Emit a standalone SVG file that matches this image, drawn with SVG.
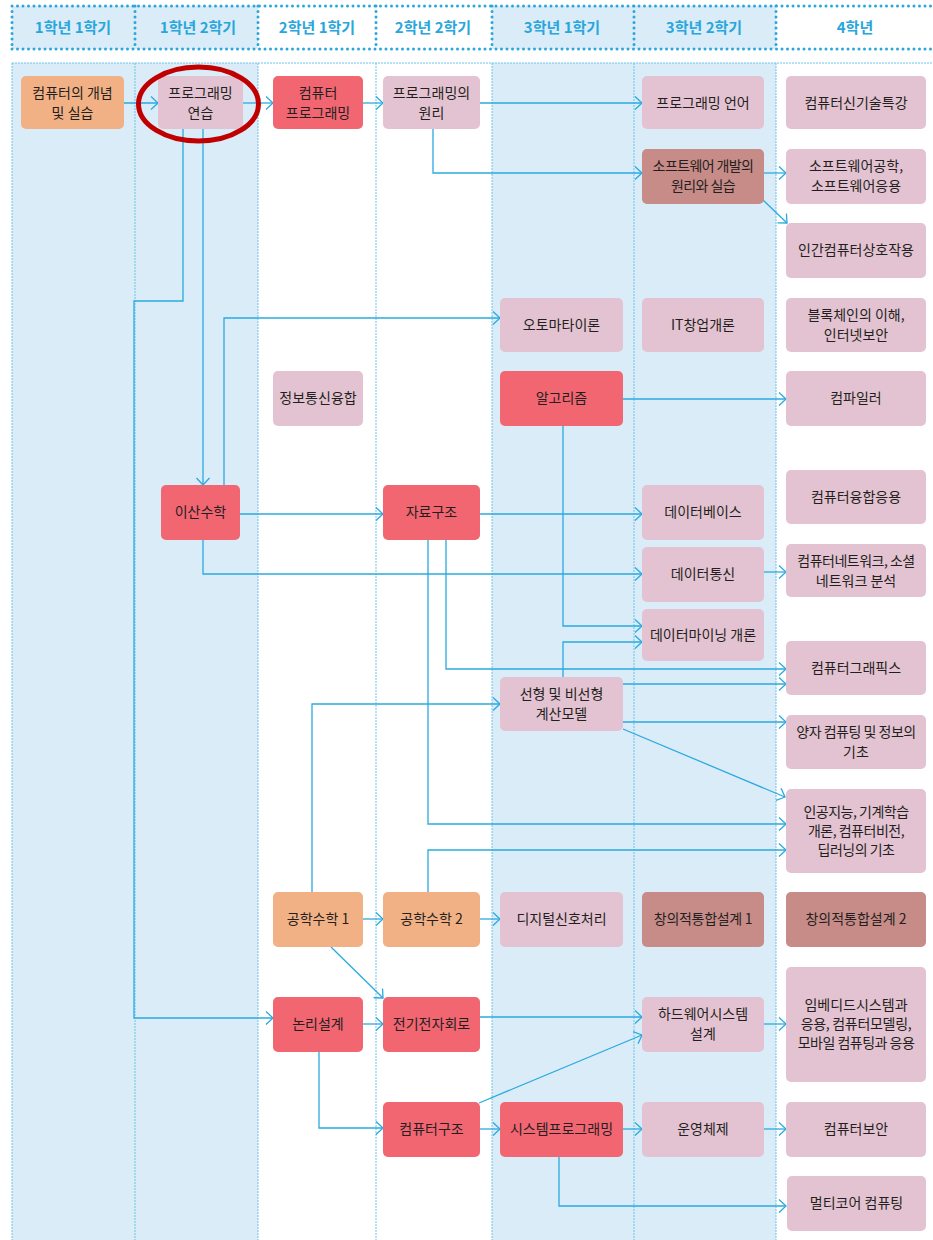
<svg xmlns="http://www.w3.org/2000/svg" width="933" height="1240" viewBox="0 0 933 1240">
<defs>
<style>
.hd{font-family:"Noto Sans CJK KR","Noto Sans",sans-serif;font-size:15px;font-weight:bold;fill:#29a6dc;text-anchor:middle}
.t{font-family:"Noto Sans CJK KR","Noto Sans",sans-serif;font-size:14px;fill:#231f20;text-anchor:middle}
.o{fill:#f2b185}
.p{fill:#e3c3d1}
.r{fill:#f26672}
.d{fill:#c78b88}
.bg{fill:#daecf8}
.hdot{stroke:#29a6dc;stroke-width:3;stroke-linecap:round;stroke-dasharray:0 5.5;fill:none}
.bdot{stroke:#6cc3ea;stroke-width:1;stroke-dasharray:2 1;fill:none}
.c{fill:none;stroke:#2aaae0;stroke-width:1.3;marker-end:url(#a)}
.c2{fill:none;stroke:#2aaae0;stroke-width:1.3}
</style>
<marker id="a" markerUnits="userSpaceOnUse" markerWidth="10" markerHeight="14" refX="8" refY="7" orient="auto">
<path d="M1,0.5 L8,7 L1,13.5" fill="none" stroke="#2aaae0" stroke-width="1.3"/>
</marker>
</defs>
<rect width="933" height="1240" fill="#ffffff"/>
<g id="header">
<rect class="bg" x="12" y="6" width="246" height="43"/>
<rect class="bg" x="492" y="6" width="284" height="43"/>
<path class="hdot" d="M12,6 H933 M12,49 H933 M12,6 V49 M135,6 V49 M258,6 V49 M376,6 V49 M492,6 V49 M634,6 V49 M776,6 V49"/>
<text class="hd" x="73" y="33">1학년 1학기</text>
<text class="hd" x="198" y="33">1학년 2학기</text>
<text class="hd" x="317" y="33">2학년 1학기</text>
<text class="hd" x="433" y="33">2학년 2학기</text>
<text class="hd" x="562" y="33">3학년 1학기</text>
<text class="hd" x="704" y="33">3학년 2학기</text>
<text class="hd" x="855" y="33">4학년</text>
</g>
<g id="body">
<rect class="bg" x="12" y="63" width="246" height="1177"/>
<rect class="bg" x="492" y="63" width="284" height="1177"/>
<path class="bdot" d="M12,63 H933 M12,63 V1240 M135,63 V1240 M258,63 V1240 M376,63 V1240 M492,63 V1240 M634,63 V1240 M776,63 V1240"/>
</g>
<g id="connectors">
<path class="c" d="M124,103 H158"/>
<path class="c" d="M243,103 H273"/>
<path class="c" d="M363,103 H383"/>
<path class="c" d="M480,103 H642"/>
<path class="c" d="M433,129 V173 H642"/>
<path class="c" d="M764,173 H786"/>
<path class="c" d="M763,200 L787,223"/>
<path class="c" d="M183,129 V301 H134 V1018 H273"/>
<path class="c" d="M203,129 V485"/>
<path class="c" d="M224,485 V318 H500"/>
<path class="c" d="M240,514 H383"/>
<path class="c" d="M203,540 V574 H642"/>
<path class="c" d="M480,514 H642"/>
<path class="c" d="M428,540 V824 H786"/>
<path class="c" d="M446,540 V669 H786"/>
<path class="c" d="M563,426 V626 H642"/>
<path class="c" d="M623,399 H786"/>
<path class="c" d="M563,677 V642 H642"/>
<path class="c" d="M623,684 H786"/>
<path class="c" d="M623,722 H786"/>
<path class="c" d="M623,729 L785,797"/>
<path class="c" d="M312,892 V704 H500"/>
<path class="c" d="M428,892 V850 H786"/>
<path class="c" d="M363,919 H383"/>
<path class="c" d="M480,919 H500"/>
<path class="c" d="M331,947 L383,998"/>
<path class="c" d="M363,1024 H383"/>
<path class="c" d="M319,1052 V1128 H383"/>
<path class="c" d="M480,1017 H642"/>
<path class="c" d="M479,1103 L642,1035"/>
<path class="c" d="M764,1024 H786"/>
<path class="c" d="M480,1129 H500"/>
<path class="c" d="M623,1129 H642"/>
<path class="c" d="M764,1129 H786"/>
<path class="c" d="M559,1157 V1206 H786"/>
<path class="c" d="M764,572 H786"/>
</g>
<g id="n1"><rect class="o" x="21" y="76" width="103" height="53" rx="5"/><text class="t" x="72.5" y="98">컴퓨터의 개념</text><text class="t" x="72.5" y="118">및 실습</text></g>
<g id="n2"><rect class="p" x="158" y="76" width="85" height="53" rx="5"/><text class="t" x="200.5" y="98">프로그래밍</text><text class="t" x="200.5" y="118">연습</text></g>
<g id="n3"><rect class="r" x="273" y="76" width="90" height="53" rx="5"/><text class="t" x="318" y="98">컴퓨터</text><text class="t" x="318" y="118">프로그래밍</text></g>
<g id="n4"><rect class="p" x="383" y="76" width="97" height="53" rx="5"/><text class="t" x="431.5" y="98">프로그래밍의</text><text class="t" x="431.5" y="118">원리</text></g>
<g id="n5"><rect class="p" x="642" y="76" width="122" height="53" rx="5"/><text class="t" x="703" y="108">프로그래밍 언어</text></g>
<g id="n6"><rect class="p" x="786" y="76" width="140" height="53" rx="5"/><text class="t" x="856" y="108">컴퓨터신기술특강</text></g>
<g id="n7"><rect class="d" x="642" y="149" width="122" height="55" rx="5"/><text class="t" x="703" y="171" letter-spacing="-0.6">소프트웨어 개발의</text><text class="t" x="703" y="191" letter-spacing="-0.6">원리와 실습</text></g>
<g id="n8"><rect class="p" x="786" y="149" width="140" height="55" rx="5"/><text class="t" x="856" y="171">소프트웨어공학,</text><text class="t" x="856" y="191">소프트웨어응용</text></g>
<g id="n9"><rect class="p" x="786" y="223" width="140" height="55" rx="5"/><text class="t" x="856" y="255">인간컴퓨터상호작용</text></g>
<g id="n10"><rect class="p" x="500" y="298" width="123" height="54" rx="5"/><text class="t" x="561.5" y="330">오토마타이론</text></g>
<g id="n11"><rect class="p" x="642" y="298" width="122" height="54" rx="5"/><text class="t" x="703" y="330">IT창업개론</text></g>
<g id="n12"><rect class="p" x="786" y="298" width="140" height="54" rx="5"/><text class="t" x="856" y="320">블록체인의 이해,</text><text class="t" x="856" y="340">인터넷보안</text></g>
<g id="n13"><rect class="p" x="273" y="371" width="90" height="55" rx="5"/><text class="t" x="318" y="403">정보통신융합</text></g>
<g id="n14"><rect class="r" x="500" y="371" width="123" height="55" rx="5"/><text class="t" x="561.5" y="403">알고리즘</text></g>
<g id="n15"><rect class="p" x="786" y="371" width="140" height="55" rx="5"/><text class="t" x="856" y="403">컴파일러</text></g>
<g id="n16"><rect class="r" x="161" y="485" width="79" height="55" rx="5"/><text class="t" x="200.5" y="517">이산수학</text></g>
<g id="n17"><rect class="r" x="383" y="485" width="97" height="55" rx="5"/><text class="t" x="431.5" y="517">자료구조</text></g>
<g id="n18"><rect class="p" x="642" y="485" width="122" height="55" rx="5"/><text class="t" x="703" y="517">데이터베이스</text></g>
<g id="n19"><rect class="p" x="786" y="470" width="140" height="54" rx="5"/><text class="t" x="856" y="502">컴퓨터융합응용</text></g>
<g id="n20"><rect class="p" x="642" y="547" width="122" height="55" rx="5"/><text class="t" x="703" y="579">데이터통신</text></g>
<g id="n21"><rect class="p" x="786" y="544" width="140" height="53" rx="5"/><text class="t" x="856" y="566" letter-spacing="-0.5">컴퓨터네트워크, 소셜</text><text class="t" x="856" y="586">네트워크 분석</text></g>
<g id="n22"><rect class="p" x="642" y="609" width="122" height="52" rx="5"/><text class="t" x="703" y="640">데이터마이닝 개론</text></g>
<g id="n23"><rect class="p" x="786" y="641" width="140" height="54" rx="5"/><text class="t" x="856" y="673">컴퓨터그래픽스</text></g>
<g id="n24"><rect class="p" x="500" y="677" width="123" height="54" rx="5"/><text class="t" x="561.5" y="699">선형 및 비선형</text><text class="t" x="561.5" y="719">계산모델</text></g>
<g id="n25"><rect class="p" x="786" y="715" width="140" height="54" rx="5"/><text class="t" x="856" y="737" letter-spacing="-0.5">양자 컴퓨팅 및 정보의</text><text class="t" x="856" y="757">기초</text></g>
<g id="n26"><rect class="p" x="786" y="789" width="140" height="84" rx="5"/><text class="t" x="856" y="817" letter-spacing="-0.5">인공지능, 기계학습</text><text class="t" x="856" y="836" letter-spacing="-0.5">개론, 컴퓨터비전,</text><text class="t" x="856" y="855" letter-spacing="-0.5">딥러닝의 기초</text></g>
<g id="n27"><rect class="o" x="273" y="892" width="90" height="55" rx="5"/><text class="t" x="318" y="924">공학수학 1</text></g>
<g id="n28"><rect class="o" x="383" y="892" width="97" height="55" rx="5"/><text class="t" x="431.5" y="924">공학수학 2</text></g>
<g id="n29"><rect class="p" x="500" y="892" width="123" height="55" rx="5"/><text class="t" x="561.5" y="924">디지털신호처리</text></g>
<g id="n30"><rect class="d" x="642" y="892" width="122" height="55" rx="5"/><text class="t" x="703" y="924" letter-spacing="-0.3">창의적통합설계 1</text></g>
<g id="n31"><rect class="d" x="786" y="892" width="140" height="55" rx="5"/><text class="t" x="856" y="924">창의적통합설계 2</text></g>
<g id="n32"><rect class="r" x="273" y="997" width="90" height="55" rx="5"/><text class="t" x="318" y="1029">논리설계</text></g>
<g id="n33"><rect class="r" x="383" y="997" width="97" height="55" rx="5"/><text class="t" x="431.5" y="1029">전기전자회로</text></g>
<g id="n34"><rect class="p" x="642" y="997" width="122" height="55" rx="5"/><text class="t" x="703" y="1019">하드웨어시스템</text><text class="t" x="703" y="1039">설계</text></g>
<g id="n35"><rect class="p" x="786" y="967" width="140" height="115" rx="5"/><text class="t" x="856" y="1010">임베디드시스템과</text><text class="t" x="856" y="1029" letter-spacing="-0.3">응용, 컴퓨터모델링,</text><text class="t" x="856" y="1048" letter-spacing="-0.5">모바일 컴퓨팅과 응용</text></g>
<g id="n36"><rect class="r" x="383" y="1102" width="97" height="55" rx="5"/><text class="t" x="431.5" y="1134">컴퓨터구조</text></g>
<g id="n37"><rect class="r" x="500" y="1102" width="123" height="55" rx="5"/><text class="t" x="561.5" y="1134">시스템프로그래밍</text></g>
<g id="n38"><rect class="p" x="642" y="1102" width="122" height="55" rx="5"/><text class="t" x="703" y="1134">운영체제</text></g>
<g id="n39"><rect class="p" x="786" y="1102" width="140" height="55" rx="5"/><text class="t" x="856" y="1134">컴퓨터보안</text></g>
<g id="n40"><rect class="p" x="787" y="1176" width="139" height="55" rx="5"/><text class="t" x="856.5" y="1208">멀티코어 컴퓨팅</text></g>
<g id="highlight"><ellipse cx="198.5" cy="104" rx="60" ry="37" fill="none" stroke="#c00000" stroke-width="5"/></g>
</svg>
